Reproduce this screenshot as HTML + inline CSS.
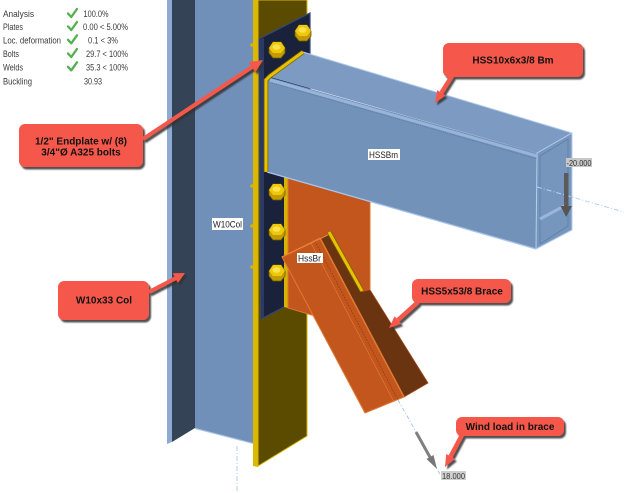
<!DOCTYPE html>
<html><head><meta charset="utf-8"><style>
html,body{margin:0;padding:0;background:#fff;}
svg{display:block;}
text{font-family:"Liberation Sans",Arial,sans-serif;}
</style></head><body>
<svg width="624" height="493" viewBox="0 0 624 493" xmlns="http://www.w3.org/2000/svg">
<defs>
<filter id="sh" x="-10%" y="-20%" width="130%" height="150%">
<feDropShadow dx="2" dy="2.5" stdDeviation="0.7" flood-color="#333" flood-opacity="0.85"/>
</filter>
<g id="bolt">
<polygon points="-8,-2 -4,-8 4,-8 8,-2 8,3 4,8 -4,8 -8,3" fill="#c29c00" stroke="#6e5800" stroke-width="0.8"/>
<polygon points="-8,-2 -4,-8 4,-8 8,-2 4,3 -4,3" fill="#edc80c"/>
<ellipse cx="-0.5" cy="-3" rx="4" ry="2.8" fill="#ffe24a"/>
</g>
</defs>
<rect width="624" height="493" fill="#fff"/>

<!-- results table -->
<g font-size="9" fill="#3a3a3a">
<text x="3" y="17" textLength="31" lengthAdjust="spacingAndGlyphs">Analysis</text>
<text x="3" y="30" textLength="20" lengthAdjust="spacingAndGlyphs">Plates</text>
<text x="3" y="43.3" textLength="58" lengthAdjust="spacingAndGlyphs">Loc. deformation</text>
<text x="3" y="57" textLength="16" lengthAdjust="spacingAndGlyphs">Bolts</text>
<text x="3" y="70.3" textLength="20" lengthAdjust="spacingAndGlyphs">Welds</text>
<text x="3" y="84.7" textLength="29" lengthAdjust="spacingAndGlyphs">Buckling</text>
<text x="83.5" y="17" textLength="25" lengthAdjust="spacingAndGlyphs">100.0%</text>
<text x="83" y="30" textLength="45" lengthAdjust="spacingAndGlyphs">0.00 &lt; 5.00%</text>
<text x="88" y="43.3" textLength="30" lengthAdjust="spacingAndGlyphs">0.1 &lt; 3%</text>
<text x="86" y="57" textLength="42" lengthAdjust="spacingAndGlyphs">29.7 &lt; 100%</text>
<text x="86" y="70.3" textLength="42" lengthAdjust="spacingAndGlyphs">35.3 &lt; 100%</text>
<text x="84" y="84.7" textLength="18" lengthAdjust="spacingAndGlyphs">30.93</text>
</g>
<g fill="none" stroke="#52b04f" stroke-width="2.3" stroke-linecap="round" stroke-linejoin="round">
<path d="M68,13.5 L71.3,17 L77,9"/>
<path d="M68,26.5 L71.3,30 L77,22"/>
<path d="M68,39.8 L71.3,43.3 L77,35.3"/>
<path d="M68,53.5 L71.3,57 L77,49"/>
<path d="M68,66.8 L71.3,70.3 L77,62.3"/>
</g>

<!-- column -->
<polygon points="167,0 172,0 172,442 167,444" fill="#8eaad0"/>
<polygon points="172,0 195,0 195,428 172,442" fill="#344456"/>
<polygon points="195,0 253,0 253,443 195,428" fill="#7190b9"/>
<line x1="195" y1="428.5" x2="253" y2="443.5" stroke="#a9c3e6" stroke-width="1"/>
<line x1="237" y1="446" x2="237" y2="493" stroke="#b5c8e6" stroke-width="1" stroke-dasharray="5 2 1 2"/>
<polygon points="253,0 258,0 258,467 253,466" fill="#dcb800"/>
<polygon points="258,0 307,0 307,436 258,466" fill="#5a4b00" stroke="#d8b400" stroke-width="1"/>
<circle cx="252" cy="45" r="1.8" fill="#d8b400"/>
<circle cx="252" cy="186" r="1.8" fill="#d8b400"/>
<circle cx="252" cy="226" r="1.8" fill="#d8b400"/>
<circle cx="252" cy="267" r="1.8" fill="#d8b400"/>

<!-- endplate -->
<polygon points="259,39 310,13 310,200 286,306 261,319" fill="#19213b" stroke="#34487c" stroke-width="1.2"/>
<polygon points="259,40 264,38 264,317 261,319" fill="#2b3a64"/>

<!-- gusset -->
<polygon points="284,177 288,178 288,308 284,307" fill="#d8b400"/>
<polygon points="288,178 370,201 370,292 315,316 288,308" fill="#c2561d" stroke="#de7430" stroke-width="1"/>

<!-- bolts -->
<use href="#bolt" x="277" y="50"/>
<use href="#bolt" x="303" y="33"/>
<use href="#bolt" x="277" y="192"/>
<use href="#bolt" x="277" y="232"/>
<use href="#bolt" x="277" y="273"/>

<!-- beam -->
<polygon points="270,77 303,52 572,133 537,153" fill="#7d9bc2"/>
<polygon points="268,77 537,153 536,249 267,172" fill="#7392ba"/>
<polygon points="537,153 572,133 572,230 536,249" fill="#7696bd" stroke="#b5cdee" stroke-width="1"/>
<polygon points="540,156 568,139 568,226 540,244" fill="none" stroke="#5e7ea7" stroke-width="0.8"/>
<line x1="540" y1="219" x2="568" y2="204" stroke="#9ab6dc" stroke-width="3"/>
<line x1="270" y1="80" x2="537" y2="156" stroke="#98b4d9" stroke-width="3"/>
<line x1="272" y1="83" x2="537" y2="159" stroke="#56769f" stroke-width="0.7" stroke-dasharray="1 1"/>
<line x1="303" y1="52" x2="572" y2="133" stroke="#b0c8ea" stroke-width="1"/>
<line x1="267" y1="172" x2="536" y2="249" stroke="#aac4e8" stroke-width="1.3"/>
<polyline points="266,172 266,80 270,76 303,52" fill="none" stroke="#7a6200" stroke-width="4.5"/>
<polyline points="266,172 266,80 270,76 303,52" fill="none" stroke="#e6c200" stroke-width="3"/>

<!-- beam axis and load -->
<line x1="537" y1="187" x2="624" y2="212" stroke="#b5cfee" stroke-width="1" stroke-dasharray="5 2 1 2"/>
<rect x="564" y="173" width="4.5" height="35" fill="#5a5a5a"/>
<polygon points="560.5,206 572,206 566.2,217" fill="#555"/>
<rect x="566" y="158" width="26" height="9" fill="#c8c8c8"/>
<text x="566.5" y="165.8" font-size="8" fill="#333" textLength="25" lengthAdjust="spacingAndGlyphs">-20.000</text>

<!-- brace -->
<polygon points="282,257 320,238 404,397 365,413" fill="#c3561c" stroke="#e07a34" stroke-width="1"/>
<polygon points="320,238 334,232 428,383 404,397" fill="#6b3410" stroke="#a04a18" stroke-width="0.8"/>
<line x1="320" y1="238" x2="404" y2="397" stroke="#e07a34" stroke-width="1.5"/>
<line x1="315" y1="241" x2="398" y2="400" stroke="#8a3a10" stroke-width="0.8" stroke-dasharray="1.5 1.5"/>
<line x1="311" y1="243" x2="394" y2="402" stroke="#e08040" stroke-width="0.6"/>
<line x1="282" y1="257" x2="334" y2="232" stroke="#e8843c" stroke-width="1.2"/>
<polygon points="329,233 370,213 370,290 362,292" fill="#c2561d"/>
<line x1="370" y1="213" x2="370" y2="290" stroke="#de7430" stroke-width="1"/>
<line x1="329" y1="232" x2="362" y2="291" stroke="#7a6000" stroke-width="4.5"/>
<line x1="329" y1="232" x2="362" y2="291" stroke="#e6c200" stroke-width="3"/>

<!-- brace axis and load -->
<line x1="398" y1="400" x2="441" y2="476" stroke="#a8c8ee" stroke-width="1" stroke-dasharray="4 2 1 2"/>
<line x1="416" y1="432" x2="431" y2="459" stroke="#808080" stroke-width="3"/>
<polygon points="437,469 433.5,455 426.5,459" fill="#777"/>
<rect x="441" y="471" width="25" height="9" fill="#cfcfcf"/>
<text x="442" y="478.8" font-size="8" fill="#333" textLength="23" lengthAdjust="spacingAndGlyphs">18.000</text>

<!-- labels -->
<rect x="212" y="218" width="31" height="12" fill="#fff"/>
<text x="213" y="227.5" font-size="9" fill="#222" textLength="29" lengthAdjust="spacingAndGlyphs">W10Col</text>
<rect x="368" y="149" width="32" height="11" fill="#fff"/>
<text x="369" y="158" font-size="9" fill="#222" textLength="29" lengthAdjust="spacingAndGlyphs">HSSBm</text>
<rect x="297" y="253" width="26" height="10" fill="#fff"/>
<text x="298" y="261.5" font-size="9" fill="#222" textLength="23" lengthAdjust="spacingAndGlyphs">HssBr</text>

<!-- callouts -->
<g filter="url(#sh)" fill="#f5594b" stroke="#f5594b">
<line x1="143" y1="139" x2="252" y2="67" stroke-width="4"/>
<polygon points="263,60 255.4,72.1 248.8,62.1" stroke="none"/>
<rect x="19" y="124" width="124" height="43" rx="6" stroke="none"/>

<line x1="149" y1="292" x2="176" y2="278" stroke-width="4"/>
<polygon points="185,273 177.9,283 172.7,273.2" stroke="none"/>
<rect x="58" y="281" width="91" height="39" rx="6" stroke="none"/>

<line x1="452" y1="76" x2="441.4" y2="92.8" stroke-width="4.5"/>
<polygon points="435,103 445.6,95.5 437.2,90.1" stroke="none"/>
<rect x="443" y="43" width="140" height="34" rx="6" stroke="none"/>

<line x1="418" y1="302" x2="398" y2="320" stroke-width="4.5"/>
<polygon points="389,328 401.2,323.7 394.6,316.3" stroke="none"/>
<rect x="412" y="279" width="99" height="24" rx="6" stroke="none"/>

<line x1="462" y1="435" x2="450.6" y2="456.4" stroke-width="4.5"/>
<polygon points="445,467 455,458.8 446.2,454" stroke="none"/>
<rect x="456" y="417" width="108" height="19" rx="6" stroke="none"/>
</g>
<g font-size="10" font-weight="bold" fill="#111" text-anchor="middle">
<text x="81" y="144.5">1/2" Endplate w/ (8)</text>
<text x="81" y="155.5">3/4"Ø A325 bolts</text>
<text x="104" y="303.5">W10x33 Col</text>
<text x="513" y="63.5">HSS10x6x3/8 Bm</text>
<text x="462" y="294.5">HSS5x53/8 Brace</text>
<text x="510" y="430">Wind load in brace</text>
</g>
</svg>
</body></html>
